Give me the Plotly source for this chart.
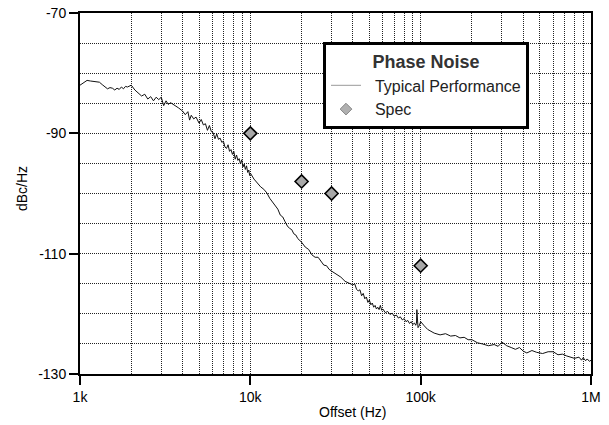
import plotly.graph_objects as go

# ---------------- data ----------------
freq_hz = [
    1000, 1050, 1100, 1150, 1200, 1250, 1300, 1350, 1400, 1450, 1500, 1550, 1600, 1650,
    1700, 1750, 1800, 1850, 1900, 1950, 2000, 2100, 2200, 2300, 2400, 2500, 2600, 2700,
    2800, 2900, 3000, 3100, 3200, 3300, 3400, 3600, 3800,
    4000, 4150, 4300, 4400, 4500, 4650, 4800, 5000, 5150, 5300, 5450, 5600, 5750, 5900,
    6050, 6200, 6350, 6500, 6650, 6800, 6950, 7100, 7250, 7400, 7550, 7700, 7850, 8000,
    8150, 8300, 8450, 8600, 8750, 8900, 9050, 9200, 9350, 9500, 9650, 9800, 9900, 10000,
    10500, 11000, 11500, 12000,
    12500, 13000, 13500, 14000, 14500, 15000, 15500, 16000, 16500, 17000, 17500, 18000,
    18500, 19000, 20000, 21000, 22000, 23000, 24000, 25000, 26000, 27000, 28000, 29000,
    30000, 32000, 34000, 36000, 38000, 40000, 41000, 42000, 43000, 44000, 45000, 46000,
    47000, 48000, 49000, 50000, 51000, 52000, 53000, 54000, 55000, 56000, 57000, 58000,
    59000, 60000, 62000, 64000, 66000, 68000, 70000, 72000, 74000, 76000, 78000, 80000,
    82000, 84000, 86000, 88000, 90000, 92000, 93500, 94500, 95000, 95500, 96500, 98000,
    100000, 105000, 110000, 120000, 130000, 140000, 150000, 160000, 170000, 180000,
    190000, 200000, 215000, 230000, 250000, 270000, 285000, 300000, 320000, 340000,
    360000, 380000, 400000, 420000, 450000, 480000, 520000, 560000, 600000, 640000,
    680000, 720000, 760000, 800000, 850000, 880000, 900000, 930000, 950000, 980000, 1000000,
]
typical_dbc = [
    -82.0, -81.6, -81.2, -81.3, -81.4, -81.5, -81.5, -81.9, -82.3, -82.6, -82.4, -82.5, -82.8, -82.5,
    -82.7, -82.3, -82.6, -82.2, -82.3, -82.1, -82.0, -82.8, -83.3, -83.8, -83.5, -84.3, -83.9, -84.6,
    -84.0, -84.4, -84.0, -85.4, -84.6, -85.2, -84.9, -85.3, -85.8,
    -86.3, -86.9, -86.4, -87.8, -87.0, -87.6, -87.3, -88.3, -87.7, -88.6, -88.4, -89.5, -88.7, -89.7,
    -89.9, -90.9, -90.1, -91.0, -90.8, -91.5, -91.3, -92.3, -92.5, -91.9, -93.0, -92.7, -93.5, -93.0,
    -94.3, -93.6, -94.5, -94.2, -95.1, -94.4, -95.6, -95.1, -96.0, -95.4, -96.5, -96.1, -97.0, -96.6,
    -97.6, -98.3, -98.9, -99.3,
    -99.9, -100.8, -101.4, -102.0, -102.6, -103.6, -103.9, -104.7, -105.4, -105.8, -106.0, -106.7,
    -106.9, -107.5, -108.1, -108.9, -109.3, -110.2, -110.6, -110.6, -111.3, -111.9, -112.0, -112.6,
    -112.9, -113.4, -113.9, -114.6, -114.9, -115.2, -115.0, -115.9, -116.2, -116.0, -117.0, -116.6,
    -117.5, -117.2, -118.1, -117.7, -118.5, -118.2, -118.9, -118.6, -119.2, -118.9, -119.3, -118.6,
    -119.4, -119.2, -119.8, -119.6, -120.1, -119.9, -120.4, -120.2, -120.7, -120.5, -121.0, -120.8,
    -121.3, -121.1, -121.6, -121.3, -121.8, -121.5, -121.9, -121.6, -119.3, -121.9, -122.3, -122.0,
    -121.3, -122.0, -122.6, -123.2, -123.5, -123.3, -123.7, -123.6, -124.0, -123.9,
    -124.3, -124.3, -124.8, -125.0, -125.3, -125.1, -125.4, -124.7, -125.3, -125.6,
    -125.9, -125.6, -126.2, -126.5, -126.1, -126.4, -126.6, -126.3, -126.3, -126.8,
    -126.7, -127.0, -127.2, -127.4, -127.2, -127.7, -127.3, -127.8, -127.5, -127.9, -127.7,
]
assert len(freq_hz) == len(typical_dbc)
spec_hz = [10000, 20000, 30000, 100000]
spec_dbc = [-90, -98, -100, -112]

x_tick_vals = [1e3, 1e4, 1e5, 1e6]
x_tick_text = ["1k", "10k", "100k", "1M"]
x_minor_vals = [m * d for d in (1e3, 1e4, 1e5) for m in range(2, 10)]
y_tick_vals = [-130, -110, -90, -70]
y_tick_text = ["-130", "-110", "-90", "-70"]

FONT = "Arial, Liberation Sans, Helvetica, sans-serif"

W, H = 609, 425
L, R, T, B = 80, 18, 13, 51

fig = go.Figure()
fig.add_trace(go.Scatter(
    x=freq_hz, y=typical_dbc, mode="lines", name="Typical Performance",
    line=dict(color="#111111", width=1), showlegend=False,
))
fig.add_trace(go.Scatter(
    x=spec_hz, y=spec_dbc, mode="markers", name="Spec",
    marker=dict(symbol="diamond", size=10, color="#a8a8a8",
                line=dict(color="#000000", width=1.6)),
    showlegend=False,
))
# legend entries (styled like the reference's legend swatches)
fig.add_trace(go.Scatter(
    x=[None], y=[None], mode="lines", name="&nbsp;&nbsp;Typical Performance",
    line=dict(color="#999999", width=1),
))
fig.add_trace(go.Scatter(
    x=[None], y=[None], mode="markers", name="&nbsp;&nbsp;Spec",
    marker=dict(symbol="diamond", size=9, color="#b0b0b0",
                line=dict(color="#888888", width=1)),
))

grid_dash = "1px,1px"
fig.update_xaxes(
    type="log", range=[3, 6], automargin=False, ticklabeloverflow="allow",
    tickmode="array", tickvals=x_tick_vals, ticktext=x_tick_text,
    ticks="outside", ticklen=9, tickwidth=1.5, tickcolor="black",
    showline=True, linewidth=2, linecolor="black", mirror=True,
    showgrid=True, gridcolor="#222222", griddash=grid_dash, gridwidth=1,
    minor=dict(tickmode="array", tickvals=x_minor_vals, showgrid=True,
               gridcolor="#222222", griddash=grid_dash, gridwidth=1, ticks=""),
    tickfont=dict(family=FONT, size=14, color="black"),
    zeroline=False,
)
fig.update_yaxes(
    range=[-130, -70], automargin=False, ticklabeloverflow="allow",
    tickmode="array", tickvals=y_tick_vals, ticktext=y_tick_text,
    ticks="outside", ticklen=9, tickwidth=1.5, tickcolor="black",
    showline=True, linewidth=2, linecolor="black", mirror=True,
    showgrid=True, gridcolor="#222222", griddash=grid_dash, gridwidth=1,
    minor=dict(dtick=5, tick0=-130, showgrid=True,
               gridcolor="#222222", griddash=grid_dash, gridwidth=1, ticks=""),
    tickfont=dict(family=FONT, size=14, color="black"),
    zeroline=False,
)

pw, ph = 511, 361  # plot area size in px

fig.update_layout(
    width=W, height=H,
    margin=dict(l=L, r=R, t=T, b=B, autoexpand=False),
    paper_bgcolor="white", plot_bgcolor="white",
    font=dict(family=FONT, color="black"),
    showlegend=True,
    legend=dict(
        x=(323 - 80) / pw, y=(374 - 42) / ph, xanchor="left", yanchor="top",
        bgcolor="white", bordercolor="black", borderwidth=3,
        font=dict(family=FONT, size=16, color="#222222"),
        title=dict(text="<b>Phase Noise</b>", side="top center",
                   font=dict(family=FONT, size=18, color="#333333")),
        tracegroupgap=0,
    ),
    annotations=[
        dict(text="Offset (Hz)", x=(352 - 80) / pw, y=(374 - 412) / ph,
             xref="paper", yref="paper", showarrow=False,
             xanchor="center", yanchor="middle",
             font=dict(family=FONT, size=14, color="black")),
        dict(text="dBc/Hz", x=(22 - 80) / pw, y=(374 - 189) / ph,
             xref="paper", yref="paper", showarrow=False, textangle=-90,
             xanchor="center", yanchor="middle",
             font=dict(family=FONT, size=14, color="black")),
    ],
)

# remove the browser's default 8px body margin so the figure fills the window
fig.write_html("out.html",
               config={"displayModeBar": False},
               post_script="document.body.style.margin='0';")
